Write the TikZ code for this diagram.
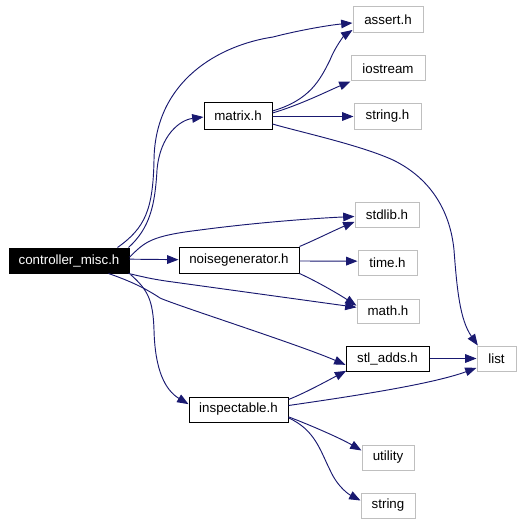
\documentclass[tikz,border=0pt]{standalone}
\usepackage{fontspec}
\setmainfont{Liberation Sans}
\usetikzlibrary{arrows.meta}
\definecolor{edgeblue}{HTML}{191970}
\definecolor{boxgrey}{HTML}{BFBFBF}
\begin{document}
\begin{tikzpicture}[x=0.75pt,y=-0.75pt,
  every node/.style={font=\fontsize{10}{12}\selectfont, inner sep=0pt, rectangle, line width=0.75pt},
  localbox/.style={draw=black, fill=white},
  sysbox/.style={draw=boxgrey, fill=white},
  rootbox/.style={draw=black, fill=black, text=white},
  dep/.style={draw=edgeblue, line width=0.7pt, -{Triangle[length=8.5pt,width=6.5pt]}}]
\useasboundingbox (0,0) rectangle (527,524);
% nodes
\node[rootbox, minimum width=90pt, minimum height=18.75pt] (ctrl) at (69,260.5) {controller\_misc.h};
\node[localbox, minimum width=51pt, minimum height=19.5pt] (matrix) at (238,116) {matrix.h};
\node[localbox, minimum width=90pt, minimum height=19.5pt] (noise) at (239,260) {noisegenerator.h};
\node[localbox, minimum width=74.25pt, minimum height=18.75pt] (inspect) at (238.5,409.5) {inspectable.h};
\node[localbox, minimum width=62.25pt, minimum height=18.75pt] (stl) at (387.5,358.5) {stl\_adds.h};
\node[sysbox, minimum width=52.5pt, minimum height=19.5pt] (assert) at (388,20) {assert.h};
\node[sysbox, minimum width=55.5pt, minimum height=18.75pt] (iostream) at (388,68.5) {iostream};
\node[sysbox, minimum width=50.25pt, minimum height=18.75pt] (stringh) at (387.5,116.5) {string.h};
\node[sysbox, minimum width=48pt, minimum height=18.75pt] (stdlib) at (387,214.5) {stdlib.h};
\node[sysbox, minimum width=44.25pt, minimum height=18.75pt] (time) at (387.5,262.5) {time.h};
\node[sysbox, minimum width=46.5pt, minimum height=18pt] (math) at (388,311) {math.h};
\node[sysbox, minimum width=29.25pt, minimum height=18.75pt] (list) at (496.5,358.5) {list};
\node[sysbox, minimum width=39pt, minimum height=18.75pt] (utility) at (388,457.5) {utility};
\node[sysbox, minimum width=40.5pt, minimum height=18.75pt] (string) at (388,505.5) {string};
% edges from controller_misc.h
\draw[dep] ([xshift=-9pt]ctrl.north east) .. controls (145,228) and (153,210) .. (154,160)
  .. controls (155,80) and (220,45) .. (273,37) .. controls (300,30) and (330,25) .. ([yshift=-2.25pt]assert.west);
\draw[dep] ([xshift=-0.75pt]ctrl.north east) .. controls (150,228) and (155,205) .. (157,170)
  .. controls (160,135) and (180,120) .. ([yshift=-0.75pt]matrix.west);
\draw[dep] ([yshift=2.5pt]ctrl.east) .. controls (145,242) and (150,236) .. (200,230)
  .. controls (260,222) and (320,218) .. ([yshift=-1.5pt]stdlib.west);
\draw[dep] ([yshift=1pt]ctrl.east) -- ([yshift=0.25pt]noise.west);
\draw[dep] ([xshift=-0.75pt]ctrl.south east) .. controls (140,276) and (150,279) .. (173,282)
  -- ([yshift=2.75pt]math.west);
\draw[dep] ([xshift=-15.75pt]ctrl.south east) .. controls (130,281) and (145,288) .. (160,298)
  .. controls (175,305) and (300,345) .. ([yshift=-4.75pt]stl.west);
\draw[dep] ([xshift=0.75pt,yshift=-0.75pt]ctrl.south east) .. controls (148,290) and (153,300) .. (154,330)
  .. controls (155,370) and (165,390) .. ([yshift=4pt]inspect.west);
% edges from matrix.h
\draw[dep] ([yshift=3.75pt]matrix.east) .. controls (310,100) and (320,80) .. (330,60)
  .. controls (336,45) and (345,35) .. ([yshift=-7.5pt]assert.west);
\draw[dep] ([yshift=2.25pt]matrix.east) .. controls (300,105) and (330,90) .. (iostream.south west);
\draw[dep] ([yshift=-0.4pt]matrix.east) -- (stringh.west);
\draw[dep] ([yshift=-6pt]matrix.east) .. controls (300,132) and (360,145) .. (393,160)
  .. controls (430,178) and (450,210) .. (454,250) .. controls (457,290) and (460,320) .. ([xshift=1pt]list.north west);
% edges from noisegenerator.h
\draw[dep] (noise.north east) .. controls (315,240) and (335,230) .. ([yshift=-5.5pt]stdlib.west);
\draw[dep] ([yshift=-0.75pt]noise.east) -- ([yshift=1pt]time.west);
\draw[dep] (noise.south east) .. controls (320,283) and (340,295) .. ([yshift=4pt]math.west);
% edges from stl_adds.h and inspectable.h
\draw[dep] (stl.east) -- (list.west);
\draw[dep] ([yshift=7.5pt]inspect.east) .. controls (305,393) and (325,382) .. ([xshift=0.5pt,yshift=0.5pt]stl.south west);
\draw[dep] ([yshift=3pt]inspect.east) .. controls (340,398) and (430,385) .. ([yshift=-7pt]list.west);
\draw[dep] ([yshift=-5.5pt]inspect.east) .. controls (310,425) and (340,438) .. ([yshift=5.25pt]utility.west);
\draw[dep] ([yshift=-6.25pt]inspect.east) .. controls (315,430) and (320,450) .. (330,470)
  .. controls (338,488) and (350,495) .. ([yshift=3.75pt]string.west);
\end{tikzpicture}
\end{document}
